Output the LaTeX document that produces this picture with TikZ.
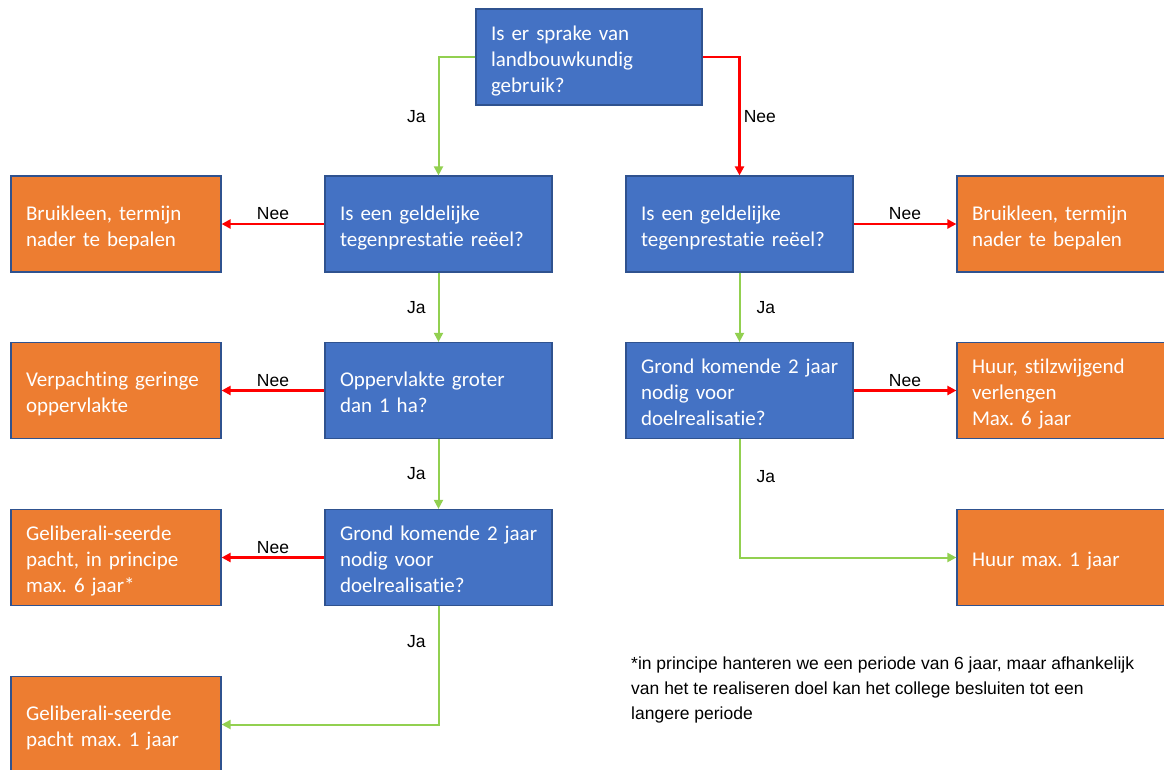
\documentclass[tikz,border=0pt]{standalone}
\usepackage{fontspec}
\setmainfont{Carlito}[Ligatures=NoCommon]
\newfontfamily\arialf{Liberation Sans}
\usetikzlibrary{arrows.meta}
\frenchspacing
\definecolor{boxblue}{HTML}{4472C4}
\definecolor{boxorange}{HTML}{ED7D31}
\definecolor{edgeblue}{HTML}{2F528F}
\definecolor{jagreen}{HTML}{92D050}
\definecolor{neered}{HTML}{FF0000}
\tikzset{
  base/.style={rectangle, draw=edgeblue, line width=1.2pt, text=white,
    font=\fontsize{21}{26}\selectfont\frenchspacing, align=left, inner xsep=15pt, inner ysep=0pt,
    minimum height=96pt,
    execute at begin node={\rule{0pt}{24pt}},
    execute at end node={\rule[-6pt]{0pt}{6pt}}},
  qbox/.style={base, fill=boxblue, text width=197pt},
  abox/.style={base, fill=boxorange, text width=180pt},
  topbox/.style={base, fill=boxblue, text width=196pt},
  ja/.style={draw=jagreen, line width=2pt, -{Triangle[length=9pt,width=9pt]}},
  nee/.style={draw=neered, line width=2.5pt, -{Triangle[length=9pt,width=9pt]}},
  lbl/.style={font=\arialf\fontsize{17.5}{21}\selectfont, text=black, inner sep=2pt}
}
\begin{document}
\begin{tikzpicture}[x=1pt,y=-1pt]
\useasboundingbox (0,0) rectangle (1164,769);
\clip (0,0) rectangle (1164,769);
% questions
\node[topbox] (q0) at (589,57) {Is er sprake van\\landbouwkundig\\gebruik?};
\node[qbox] (q1) at (438.5,224) {Is een geldelijke\\tegenprestatie reëel?};
\node[qbox] (q2) at (438.5,390.5) {Oppervlakte groter\\dan 1 ha?};
\node[qbox] (q3) at (438.5,557.5) {Grond~komende~2~jaar\\nodig voor\\doelrealisatie?};
\node[qbox] (r1) at (739.5,224) {Is een geldelijke\\tegenprestatie reëel?};
\node[qbox] (r2) at (739.5,390.5) {Grond~komende~2~jaar\\nodig voor\\doelrealisatie?};
% answers
\node[abox] (a1) at (116,224) {Bruikleen, termijn\\nader te bepalen};
\node[abox] (a2) at (116,390.5) {Verpachting~geringe\\oppervlakte};
\node[abox] (a3) at (116,557.5) {Geliberali-seerde\\pacht, in principe\\max. 6 jaar*};
\node[abox] (a4) at (116,724.5) {Geliberali-seerde\\pacht max. 1 jaar};
\node[abox] (b1) at (1062,224) {Bruikleen, termijn\\nader te bepalen};
\node[abox] (b2) at (1062,390.5) {Huur, stilzwijgend\\verlengen\\Max. 6 jaar};
\node[abox] (b3) at (1062,557.5) {Huur max. 1 jaar};
% connectors
\draw[ja] (q0.west) -| node[lbl, pos=0.75, left=10pt] {Ja} (q1.north);
\draw[nee] (q0.east) -| node[lbl, pos=0.75, right=1pt] {Nee} (r1.north);
\draw[nee] (q1.west) -- node[lbl, above=1pt] {Nee} (a1.east);
\draw[nee] (q2.west) -- node[lbl, above=1pt] {Nee} (a2.east);
\draw[nee] (q3.west) -- node[lbl, above=1pt] {Nee} (a3.east);
\draw[ja] (q1.south) -- node[lbl, left=10pt] {Ja} (q2.north);
\draw[ja] (q2.south) -- node[lbl, left=10pt] {Ja} (q3.north);
\draw[ja] (q3.south) |- node[lbl, pos=0.15, left=10pt] {Ja} (a4.east);
\draw[nee] (r1.east) -- node[lbl, above=1pt] {Nee} (b1.west);
\draw[nee] (r2.east) -- node[lbl, above=1pt] {Nee} (b2.west);
\draw[ja] (r1.south) -- node[lbl, right=14pt] {Ja} (r2.north);
\draw[ja] (r2.south) |- node[lbl, pos=0.16, right=14pt] {Ja} (b3.west);
% footnote
\node[lbl, anchor=north west, align=left, font=\arialf\fontsize{17.5}{25}\selectfont] (fn) at (629,655)
  {*in principe hanteren we een periode van 6 jaar, maar afhankelijk\\van het te realiseren doel kan het college besluiten tot een\\langere periode};
\end{tikzpicture}
\end{document}
